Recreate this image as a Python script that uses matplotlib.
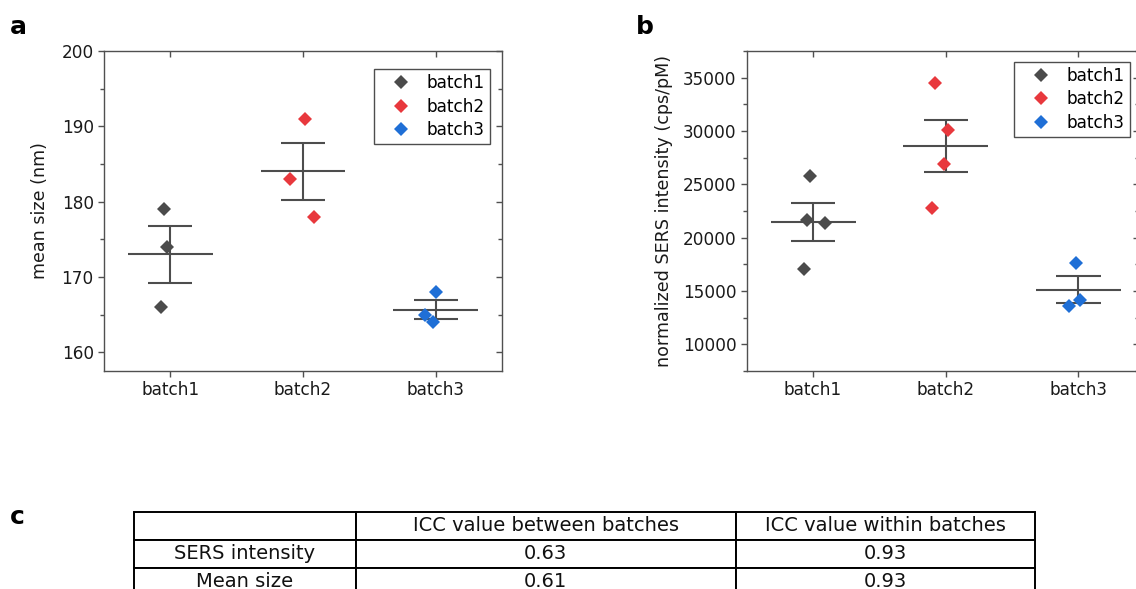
import numpy as np
import matplotlib
matplotlib.use("Agg")
import matplotlib.pyplot as plt
from matplotlib.lines import Line2D
from matplotlib.ticker import MultipleLocator, FixedLocator, NullFormatter

# ---- data ----
batches = ["batch1", "batch2", "batch3"]
colors = ["#4b4b4b", "#e8383d", "#1f6fd6"]

size_batch1 = [179, 174, 166]
size_batch2 = [191, 183, 178]
size_batch3 = [168, 165, 164]

sers_batch1 = [25800, 21640, 21390, 17070]
sers_batch2 = [34470, 30120, 26930, 22800]
sers_batch3 = [17640, 14150, 13570]

# horizontal scatter of the points around each category
size_offsets = [[-0.05, -0.025, -0.07], [0.015, -0.10, 0.08], [0.005, -0.08, -0.02]]
sers_offsets = [[-0.025, -0.045, 0.09, -0.07], [-0.08, 0.02, -0.01, -0.10], [-0.02, 0.01, -0.07]]

table_cols = ["", "ICC value between batches", "ICC value within batches"]
table_rows = ["SERS intensity", "Mean size"]
icc_between = ["0.63", "0.61"]
icc_within = ["0.93", "0.93"]

# ---- style ----
plt.rcParams["font.family"] = ["DejaVu Sans"]
SPINE = "#505050"
BAR = "#4d4d4d"
TICK_FS = 12.2
MS = 7.0

fig = plt.figure(figsize=(11.36, 5.89), dpi=100)


def scatter_panel(ax, groups, offsets, xlim, ylim, major, minor, ylabel, labelpad):
    for i, (vals, offs) in enumerate(zip(groups, offsets)):
        x0 = i + 1
        vals = np.asarray(vals, dtype=float)
        mean = vals.mean()
        se = vals.std(ddof=1) / np.sqrt(len(vals))
        ax.hlines(mean, x0 - 0.32, x0 + 0.32, color=BAR, lw=1.5, zorder=2)
        ax.hlines([mean - se, mean + se], x0 - 0.167, x0 + 0.167, color=BAR, lw=1.5, zorder=2)
        ax.vlines(x0, mean - se, mean + se, color=BAR, lw=1.5, zorder=2)
        ax.plot(x0 + np.asarray(offs), vals, ls="none", marker="D", ms=MS,
                mfc=colors[i], mec=colors[i], mew=0.0, zorder=3)
    ax.set_xlim(*xlim)
    ax.set_ylim(*ylim)
    ax.set_xticks([1, 2, 3])
    ax.set_xticklabels(batches)
    ax.yaxis.set_major_locator(MultipleLocator(major))
    ax.yaxis.set_minor_locator(MultipleLocator(minor))
    for s in ax.spines.values():
        s.set_color(SPINE)
        s.set_linewidth(1.0)
    ax.tick_params(axis="both", which="major", direction="out", length=4.3, width=1.0,
                   color=SPINE, labelsize=TICK_FS, pad=3, labelcolor="#1a1a1a")
    ax.tick_params(axis="y", which="minor", direction="out", length=2.6, width=1.0, color=SPINE)
    ax.set_ylabel(ylabel, fontsize=12.6, labelpad=labelpad, color="#1a1a1a")

    # mirrored ticks on the top and right, pointing inward
    top = ax.secondary_xaxis("top")
    top.xaxis.set_major_locator(FixedLocator([1, 2, 3]))
    top.xaxis.set_major_formatter(NullFormatter())
    top.tick_params(direction="in", length=4.3, width=1.0, color=SPINE)
    top.spines["top"].set_visible(False)
    right = ax.secondary_yaxis("right")
    right.yaxis.set_major_locator(MultipleLocator(major))
    right.yaxis.set_minor_locator(MultipleLocator(minor))
    right.yaxis.set_major_formatter(NullFormatter())
    right.tick_params(which="major", direction="in", length=4.3, width=1.0, color=SPINE)
    right.tick_params(which="minor", direction="in", length=2.6, width=1.0, color=SPINE)
    right.spines["right"].set_visible(False)

    handles = [Line2D([], [], ls="none", marker="D", ms=MS, mfc=c, mec=c, mew=0.0)
               for c in colors]
    return handles


def add_legend(ax, handles, anchor):
    leg = ax.legend(handles, batches, loc="upper right", bbox_to_anchor=anchor,
                    fontsize=TICK_FS, frameon=True, fancybox=False,
                    handlelength=2.6, handletextpad=0.2, labelspacing=0.32,
                    borderpad=0.3, borderaxespad=0)
    leg.get_frame().set_edgecolor("#222222")
    leg.get_frame().set_linewidth(1.0)
    return leg


# panel a
ax_a = fig.add_axes([104 / 1136, 218 / 589, 398 / 1136, 320 / 589])
h = scatter_panel(ax_a, [size_batch1, size_batch2, size_batch3], size_offsets,
                  (0.5, 3.5), (157.5, 200), 10, 5, "mean size (nm)", 9)
add_legend(ax_a, h, (0.97, 0.943))

# panel b (its right edge runs past the figure border)
ax_b = fig.add_axes([746.7 / 1136, 218 / 589, 392.3 / 1136, 320 / 589])
h = scatter_panel(ax_b, [sers_batch1, sers_batch2, sers_batch3], sers_offsets,
                  (0.5, 3.456), (7500, 37500), 5000, 2500,
                  "normalized SERS intensity (cps/pM)", 7)
add_legend(ax_b, h, (0.977, 0.966))

# panel c: ICC table
ax_c = fig.add_axes([134 / 1136, -6.4 / 589, 901 / 1136, 83.4 / 589])
ax_c.axis("off")
cell_text = [table_cols] + [[r, b, w] for r, b, w in zip(table_rows, icc_between, icc_within)]
tbl = ax_c.table(cellText=cell_text, cellLoc="center", bbox=[0, 0, 1, 1],
                 colWidths=[0.246, 0.4217, 0.3323])
tbl.auto_set_font_size(False)
for cell in tbl.get_celld().values():
    cell.set_linewidth(1.4)
    cell.set_edgecolor("black")
    cell.get_text().set_fontsize(14)
    cell.get_text().set_color("#111111")

# panel letters
fig.text(10 / 1136, 1 - 33.5 / 589, "a", fontsize=18, fontweight="bold", ha="left", va="baseline")
fig.text(636 / 1136, 1 - 33.5 / 589, "b", fontsize=18, fontweight="bold", ha="left", va="baseline")
fig.text(10 / 1136, 1 - 523.5 / 589, "c", fontsize=18, fontweight="bold", ha="left", va="baseline")

fig.savefig("out.png", dpi=100)
